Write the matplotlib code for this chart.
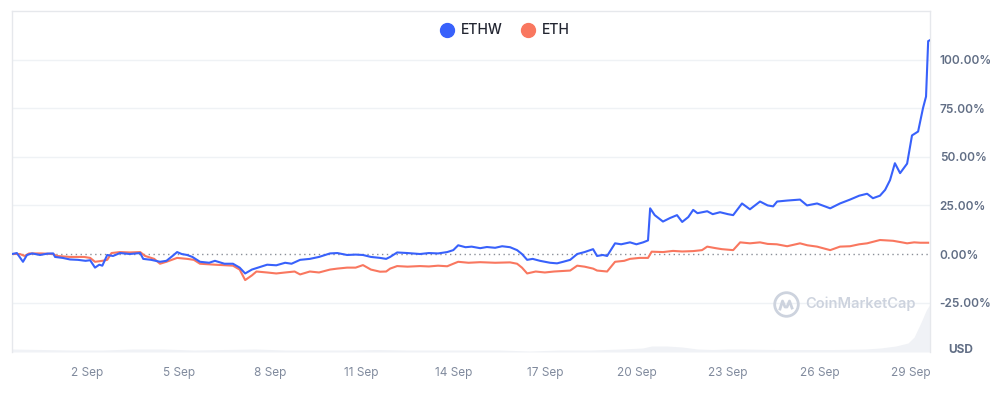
import numpy as np
import matplotlib.pyplot as plt
from matplotlib.lines import Line2D

plt.rcParams["font.family"] = ["Inter", "DejaVu Sans"]

# days counted from 1 Sep 00:00
ethw_day = [-1.46, -1.30, -1.10, -0.97, -0.80, -0.54, -0.30, -0.11, -0.05, 0.20, 0.44, 0.70,
            0.95, 1.10, 1.26, 1.40, 1.50, 1.66, 1.85, 2.08, 2.40, 2.74, 2.84, 3.10, 3.39,
            3.60, 3.80, 3.95, 4.10, 4.28, 4.45, 4.70, 5.00, 5.19, 5.50, 5.78, 6.00, 6.18,
            6.40, 6.60, 6.90, 7.20, 7.49, 7.70, 7.98, 8.30, 8.60, 8.96, 9.20, 9.52, 9.80,
            10.04, 10.30, 10.60, 10.80, 10.93, 11.16, 11.50, 11.91, 12.20, 12.50, 12.80,
            13.00, 13.16, 13.40, 13.60, 13.88, 14.10, 14.37, 14.60, 14.86, 15.09, 15.25,
            15.42, 15.60, 15.84, 16.17, 16.40, 16.60, 16.83, 17.06, 17.30, 17.58, 17.71,
            17.90, 18.04, 18.30, 18.50, 18.79, 19.00, 19.22, 19.38, 19.45, 19.60, 19.87,
            20.10, 20.33, 20.50, 20.70, 20.86, 21.00, 21.32, 21.50, 21.74, 22.00, 22.17,
            22.46, 22.72, 23.05, 23.30, 23.48, 23.61, 23.94, 24.36, 24.59, 24.92, 25.35,
            25.67, 26.00, 26.30, 26.56, 26.75, 26.98, 27.15, 27.31, 27.47, 27.64, 27.87,
            28.03, 28.23, 28.39, 28.49, 28.56, 28.62]
ethw_pct = [0, 0.5, -4, -0.5, 0.3, -0.5, 0.2, 0.3, -1.5, -2, -2.8, -3,
            -3.5, -3.2, -7, -5.5, -6, -0.5, -1, 0.5, 0, 0.5, -2.5, -3, -4,
            -3.5, -1, 1, 0, -0.5, -1.5, -4, -4.5, -3.5, -5, -5, -7, -10,
            -8, -7, -5.5, -5.8, -4.5, -5, -3, -2.5, -1.5, 0.3, 0.5, -0.5, -0.3,
            -0.5, -1.5, -2, -2.5, -1.5, 0.8, 0.5, 0, 0.5, 0.3, 1,
            2, 4.5, 3.5, 3.8, 3, 3.6, 3.2, 4, 3.5, 2, 0,
            -3, -2.5, -3.5, -4.5, -4.8, -4, -3, 0, 1, 2.5, -1,
            -0.5, -1, 5.5, 5, 6, 5, 6, 7, 23.5, 20, 16.7,
            18.5, 20, 16.5, 19, 22.7, 21, 22, 20.5, 21.5, 20.5, 20,
            26, 23, 27, 25, 24.5, 27, 27.5, 28, 25, 26, 23.5,
            26, 28, 30, 31, 28.7, 30, 33, 38, 46.7, 41.6, 46.5,
            61, 63, 75, 81, 109.5, 110]

eth_day = [-1.46, -1.20, -1.05, -0.90, -0.50, -0.11, 0.00, 0.44, 0.90, 1.10, 1.26, 1.50,
           1.66, 1.80, 2.08, 2.40, 2.74, 2.90, 3.20, 3.39, 3.60, 3.95, 4.28, 4.50, 4.70,
           5.20, 5.78, 6.00, 6.18, 6.40, 6.55, 6.90, 7.20, 7.49, 7.80, 7.98, 8.30, 8.60,
           8.96, 9.20, 9.52, 9.80, 10.04, 10.30, 10.60, 10.80, 10.93, 11.16, 11.50, 11.91,
           12.20, 12.50, 12.80, 13.00, 13.16, 13.50, 13.88, 14.37, 14.86, 15.09, 15.25,
           15.42, 15.70, 16.00, 16.30, 16.83, 17.06, 17.30, 17.58, 17.71, 18.04, 18.30,
           18.60, 18.79, 19.10, 19.38, 19.50, 19.87, 20.20, 20.50, 20.86, 21.15, 21.32,
           21.60, 21.80, 22.17, 22.40, 22.72, 23.05, 23.30, 23.60, 23.94, 24.36, 24.60,
           24.92, 25.35, 25.67, 26.00, 26.30, 26.56, 26.98, 27.20, 27.41, 27.70, 27.87,
           28.10, 28.30, 28.56]
eth_pct = [0, 0, -1, 0.3, 0.3, 0, -1, -1.5, -1.5, -2, -4, -3.5,
           -3, 0.5, 1, 0.8, 1, -1, -2.5, -5, -4, -2, -2.5, -3, -5,
           -5.5, -6, -8, -13.4, -11, -9, -9.5, -10, -9.5, -9, -10.5, -9, -9.5,
           -8, -7.5, -7, -7, -5.7, -8, -9.1, -9, -7.5, -6.2, -6.5, -6.2,
           -6.4, -6, -6.3, -5, -4, -4.5, -4.2, -4.5, -4.3, -5, -7,
           -10, -9, -9.5, -9, -8.5, -6, -6.5, -7.5, -8.5, -9, -4,
           -3.5, -2.5, -2, -2, 1.2, 1, 1.6, 1.3, 1.5, 2, 3.8,
           3, 2.5, 2, 6, 5.5, 6, 5.2, 5, 4, 5.5, 4.5,
           3.8, 2, 3.8, 4, 5, 5.5, 7.2, 7, 6.8, 6, 5.5,
           6, 5.8, 5.8]

vol_day = [-1.46, -0.5, 0.5, 1.5, 2.5, 3.5, 4.5, 5.5, 6.5, 7.5, 8.5, 9.5, 10.5, 11.5,
           12.5, 13.5, 14.5, 15.5, 16.5, 17.5, 18.5, 19.2, 19.5, 20.0, 20.5, 21.0, 21.5,
           22.0, 22.5, 23.5, 24.5, 25.5, 26.5, 27.0, 27.5, 27.9, 28.1, 28.3, 28.5, 28.6]
vol_usd = [3, 2.5, 2, 2, 3, 3, 2, 2.5, 3, 2, 2, 2, 2.5, 2,
           2, 2, 2, 1, 2, 2, 3, 4, 6, 6, 5, 3, 2.5,
           3, 3, 2.5, 2.5, 2.5, 3, 4, 6, 9, 15, 28, 42, 47]

tick_days = [1, 4, 7, 10, 13, 16, 19, 22, 25, 28]
tick_labels = ["2 Sep", "5 Sep", "8 Sep", "11 Sep", "14 Sep", "17 Sep",
               "20 Sep", "23 Sep", "26 Sep", "29 Sep"]
pct_ticks = [-25, 0, 25, 50, 75, 100]

blue = "#3861fb"
red = "#f9775f"
grid = "#eff2f5"

fig = plt.figure(figsize=(9.91, 3.99), dpi=100)
ax = fig.add_axes([12 / 991, 47 / 399, 918 / 991, 341 / 399])

# volume underneath
axv = ax.twinx()
axv.fill_between(vol_day, vol_usd, 0, color="#f0f2f6", lw=0)
axv.set_ylim(0, 341)
axv.set_yticks([])
for s in axv.spines.values():
    s.set_visible(False)
ax.set_zorder(axv.get_zorder() + 1)
ax.patch.set_visible(False)

for t in pct_ticks:
    if t != 0:
        ax.axhline(t, color=grid, lw=1, zorder=0)
ax.axhline(0, color="#8a8f98", lw=1, ls=(0, (1, 2.5)), zorder=1)

ax.plot(ethw_day, ethw_pct, color=blue, lw=1.5, zorder=3)
ax.plot(eth_day, eth_pct, color=red, lw=1.5, zorder=2)

ax.set_xlim(-1.46, 28.62)
ax.set_ylim(-50.4, 125)
axv.set_xlim(-1.46, 28.62)

ax.set_xticks(tick_days)
ax.set_xticklabels(tick_labels)
ax.tick_params(axis="x", length=0, pad=11, labelsize=8.5, labelcolor="#808a9d")
ax.yaxis.tick_right()
ax.set_yticks(pct_ticks)
ax.set_yticklabels([f"{v:.2f}%" for v in pct_ticks])
ax.tick_params(axis="y", length=0, pad=7, labelsize=8.5, labelcolor="#616e85")
for lab in ax.get_yticklabels():
    lab.set_fontweight("semibold")

for side in ["left", "top", "right"]:
    ax.spines[side].set_color("#e6e8ec")
    ax.spines[side].set_linewidth(1)
ax.spines["bottom"].set_visible(False)

fig.text(948 / 991, (399 - 350) / 399, "USD", fontsize=8.5, color="#616e85",
         fontweight="bold", ha="left", va="center")

# watermark
wm = "#cdd3de"
fig.text(805 / 991, (399 - 304) / 399, "CoinMarketCap", fontsize=10.5, color=wm,
         fontweight="semibold", ha="left", va="center")
ax.plot([786 / 100], [(399 - 304) / 100], marker="o", markersize=17, mfc="none",
        mec=wm, mew=2, transform=fig.dpi_scale_trans, clip_on=False)
ax.plot(np.array([780, 782.5, 785, 787, 789.5, 792]) / 100,
        (399 - np.array([309, 301, 307, 307, 301, 308])) / 100,
        color=wm, lw=2, transform=fig.dpi_scale_trans, clip_on=False)

handles = [Line2D([], [], ls="none", marker="o", markersize=10, color=blue),
           Line2D([], [], ls="none", marker="o", markersize=10, color=red)]
ax.legend(handles, ["ETHW", "ETH"], loc="upper center", bbox_to_anchor=(0.537, 1.0),
          ncol=2, frameon=False, handlelength=1.0, handletextpad=0.5,
          columnspacing=1.35, prop={"size": 10, "weight": "medium"},
          labelcolor="#222531")

fig.savefig("out.png", dpi=100)
